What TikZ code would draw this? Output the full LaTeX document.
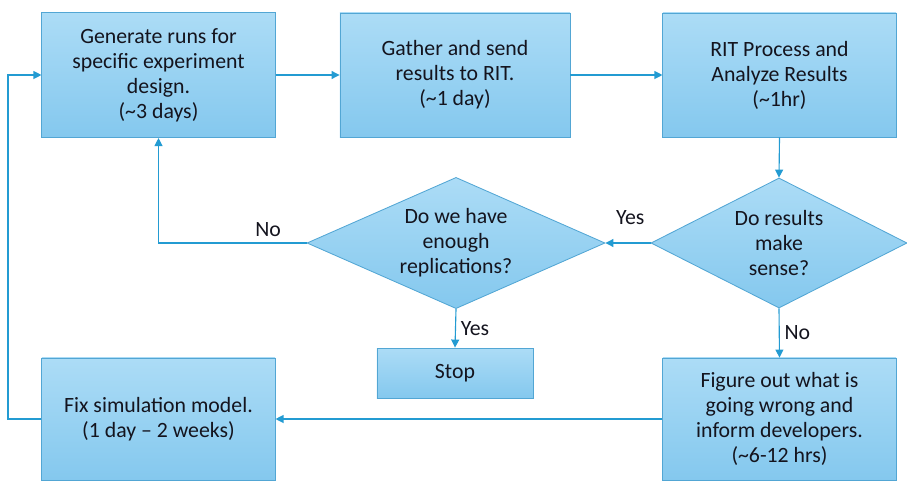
\documentclass[tikz,border=0pt]{standalone}
\usepackage{fontspec}
\setmainfont{Carlito}
\usepackage{tikz}
\usetikzlibrary{arrows.meta, shapes.geometric}
\definecolor{flowB}{RGB}{35,155,210}
\definecolor{boxTop}{RGB}{172,220,246}
\definecolor{boxBot}{RGB}{132,200,238}
\definecolor{boxLine}{RGB}{82,166,212}
\definecolor{txtD}{RGB}{20,20,30}
\tikzset{
  stepbox/.style={rectangle, draw=boxLine, line width=0.6pt, top color=boxTop, bottom color=boxBot,
    text=txtD, align=center, inner sep=2pt, font=\fontsize{15.5}{17.8}\selectfont},
  askbox/.style={diamond, draw=boxLine, line width=0.6pt, top color=boxTop, bottom color=boxBot,
    text=txtD, align=center, inner sep=0pt, aspect=2.2, font=\fontsize{15.5}{17.8}\selectfont},
  flow/.style={draw=flowB, line width=0.8pt, -{Triangle[length=2mm,width=2mm]}},
  tag/.style={font=\fontsize{15.5}{17.8}\selectfont, text=txtD}
}
\begin{document}
\begin{tikzpicture}[x=0.025cm, y=-0.025cm]
\useasboundingbox (0,0) rectangle (907,481);
% ---- top row ----
\node[stepbox, minimum width=5.83cm, minimum height=3.13cm] (gen) at (158.5,75)
  {Generate runs for\\specific experiment\\design.\\(\textasciitilde3 days)};
\node[stepbox, minimum width=5.75cm, minimum height=3.1cm] (gather) at (455,75)
  {Gather and send\\results to RIT.\\(\textasciitilde1 day)};
\node[stepbox, minimum width=5.83cm, minimum height=3.1cm] (rit) at (779.5,75)
  {RIT Process and\\Analyze Results\\(\textasciitilde1hr)};
% ---- decisions ----
\node[askbox, minimum width=7.45cm, minimum height=3.28cm] (enough) at (456,243)
  {Do we have\\enough\\replications?};
\node[askbox, minimum width=6.4cm, minimum height=3.25cm] (sense) at (779,243)
  {Do results\\make\\sense?};
% ---- bottom row ----
\node[stepbox, minimum width=3.9cm, minimum height=1.25cm] (stop) at (455,373) {Stop};
\node[stepbox, minimum width=5.83cm, minimum height=3.05cm] (figure) at (779.5,419)
  {Figure out what is\\going wrong and\\inform developers.\\(\textasciitilde6-12 hrs)};
\node[stepbox, minimum width=5.83cm, minimum height=3.05cm] (fix) at (158.5,419)
  {Fix simulation model.\\(1 day -- 2 weeks)};
\coordinate (back) at (8,419);
% ---- connectors ----
\draw[flow] (gen.east) -- (gather.west);
\draw[flow] (gather.east) -- (rit.west);
\draw[flow] (rit.south) -- (sense.north);
\draw[flow] (sense.west) -- node[tag, above, pos=0.45, yshift=9pt] {Yes} (enough.east);
\draw[flow] (sense.south) -- node[tag, right] {No} (figure.north);
\draw[flow] (enough.south) -- node[tag, right] {Yes} (stop.north);
\draw[flow] (enough.west) -| node[tag, above, pos=0.13, yshift=1pt] {No} (gen.south);
\draw[flow] (figure.west) -- (fix.east);
\draw[flow] (fix.west) -- (back) |- (gen.west);
\end{tikzpicture}
\end{document}
